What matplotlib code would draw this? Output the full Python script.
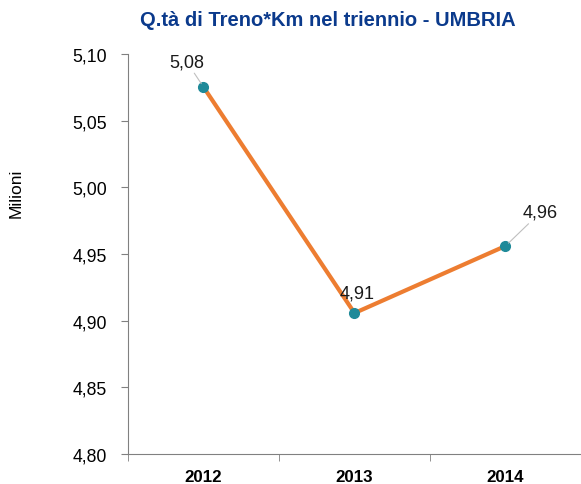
import matplotlib.pyplot as plt

plt.rcParams["font.family"] = ["Liberation Sans", "DejaVu Sans"]

years = ["2012", "2013", "2014"]
values = [5.0752, 4.9057, 4.956]
labels = ["5,08", "4,91", "4,96"]
yticks = [4.80, 4.85, 4.90, 4.95, 5.00, 5.05, 5.10]

fig = plt.figure(figsize=(5.81, 4.85), dpi=100)
ax = fig.add_axes([0.2203, 0.0619, 0.7797, 0.8247])

x = list(range(len(years)))
ax.plot(x, values, color="#ED7D31", linewidth=3, zorder=2)
ax.plot(x, values, linestyle="none", marker="o", markersize=7,
        color="#1F8A99", zorder=3)

# data labels (offsets in points from the point)
offsets = [(-12, 12), (2, 8), (25, 18)]
leaders = [True, False, True]
for xi, v, lab, off, lead in zip(x, values, labels, offsets, leaders):
    ax.annotate(lab, (xi, v), xytext=off, textcoords="offset points",
                ha="center", va="bottom", fontsize=13, color="#1a1a1a",
                arrowprops=dict(arrowstyle="-", color="#bfbfbf", lw=0.8,
                                shrinkA=0, shrinkB=3) if lead else None)

ax.set_xlim(-0.5, 2.5)
ax.set_ylim(4.80, 5.10)
ax.set_yticks(yticks)
ax.set_yticklabels([f"{t:.2f}".replace(".", ",") for t in yticks], fontsize=12.7)
ax.set_xticks(x)
ax.set_xticklabels(years, fontsize=12.2, fontweight="bold")
ax.set_xticks([-0.5, 0.5, 1.5, 2.5], minor=True)
ax.tick_params(axis="x", which="major", length=0, pad=11)
ax.tick_params(axis="x", which="minor", length=5, color="#808080")
ax.tick_params(axis="y", length=5, color="#808080", pad=10)

for s in ["top", "right"]:
    ax.spines[s].set_visible(False)
for s in ["left", "bottom"]:
    ax.spines[s].set_color("#808080")

fig.text(0.028, 0.602, "Milioni", rotation=90, ha="center", va="center", fontsize=12.5)
fig.text(0.565, 0.958, "Q.tà di Treno*Km nel triennio - UMBRIA", ha="center",
         va="center", fontsize=14.5, fontweight="bold", color="#0B3A8C")

fig.savefig("out.png", dpi=100)
